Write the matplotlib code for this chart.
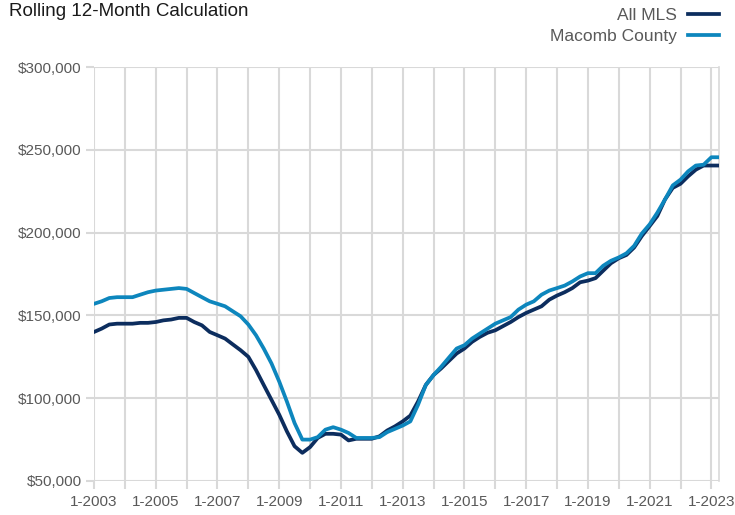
import pandas as pd
import matplotlib
matplotlib.use("Agg")
import matplotlib.pyplot as plt
import matplotlib.dates as mdates
from matplotlib.ticker import FuncFormatter

plt.rcParams['font.family'] = ['Liberation Sans', 'DejaVu Sans']

# quarterly points, 1-2003 .. 4-2023 (values in $ thousands)
months = pd.date_range('2003-01-01', '2023-04-01', freq='QS')

all_mls = [
    140, 142, 144.5, 145,
    145, 145, 145.5, 145.5,
    146, 147, 147.5, 148.5,
    148.5, 146, 144, 140,
    138, 136, 132.5, 129,
    125, 117, 108, 99,
    90, 80, 71, 67,
    70.5, 76, 78.5, 78.5,
    78, 74.5, 75.5, 75.5,
    75.5, 77, 80.5, 83,
    86, 89.5, 98, 108,
    114, 118, 122.5, 127,
    130, 134, 137, 139.5,
    141, 143.5, 146, 149,
    151.5, 153.5, 155.5, 159.5,
    162, 164, 166.5, 170,
    171, 172.5, 177, 181.5,
    184.5, 186.5, 191, 198,
    204, 210, 220, 227,
    229.5, 234, 238, 240.5,
    240.5, 240.5,
]

macomb = [
    157, 158.5, 160.5, 161,
    161, 161, 162.5, 164,
    165, 165.5, 166, 166.5,
    166, 163.5, 161, 158.5,
    157, 155.5, 152.5, 149.5,
    144.5, 138, 130, 121,
    110, 98, 85, 75,
    75, 76.5, 81, 82.5,
    81, 79, 76, 76,
    76, 76.5, 79.5, 81.5,
    83.5, 86, 96, 108,
    114, 119, 124.5, 130,
    132, 136, 139, 142,
    145, 147, 149, 153.5,
    156.5, 158.5, 162.5, 165,
    166.5, 168, 170.5, 173.5,
    175.5, 175.5, 180, 183,
    185, 187.5, 192, 199.5,
    205, 212, 220, 228.5,
    232, 237, 240.5, 241,
    245.5, 245.5,
]

series_names = ['All MLS', 'Macomb County']
series_colors = ['#0c2d5e', '#0d86bd']

tick_labels = ['1-2003', '1-2005', '1-2007', '1-2009', '1-2011', '1-2013',
               '1-2015', '1-2017', '1-2019', '1-2021', '1-2023']

GRID = '#d9d9d9'
TEXT = '#595959'

fig = plt.figure(figsize=(7.35, 5.15), dpi=100)
ax = fig.add_axes([94 / 735, 1 - 481 / 515, (719 - 94) / 735, (481 - 67) / 515])

for vals, name, col in zip([all_mls, macomb], series_names, series_colors):
    ax.plot(months, [v * 1000 for v in vals], color=col, lw=2.7, label=name,
            solid_joinstyle='round', zorder=3)

ax.set_ylim(50000, 300000)
ax.set_yticks(range(50000, 300001, 50000))
ax.yaxis.set_major_formatter(FuncFormatter(lambda v, p: '${:,.0f}'.format(v)))

ax.set_xlim(pd.Timestamp('2003-01-01'), pd.Timestamp('2023-04-01'))
major = [pd.Timestamp('{}-01-01'.format(t.split('-')[1])) for t in tick_labels]
ax.set_xticks(major)
ax.set_xticklabels(tick_labels)
ax.xaxis.set_minor_locator(mdates.YearLocator(1))

# grid
ax.grid(True, which='both', axis='x', color=GRID, lw=1.5)
ax.grid(True, which='major', axis='y', color=GRID, lw=1.5)
ax.set_axisbelow(True)

for s in ['top', 'left', 'bottom']:
    ax.spines[s].set_visible(False)
ax.spines['right'].set_color(GRID)
ax.spines['right'].set_linewidth(1.2)

ax.tick_params(axis='both', which='both', color=GRID, width=1.5, length=6,
               labelcolor=TEXT, labelsize=11)
ax.tick_params(axis='y', pad=3)
ax.tick_params(axis='x', pad=4)

fig.text(0.012, 1 - 12 / 515, 'Rolling 12-Month Calculation', fontsize=13.5,
         color='#1a1a1a', va='center', ha='left')

fig.legend(loc='upper right', bbox_to_anchor=(719 / 735, 1 - 8 / 515),
           frameon=False, markerfirst=False, fontsize=12.5, labelcolor=TEXT,
           handlelength=1.8, handletextpad=0.6, labelspacing=0.35, borderpad=0,
           borderaxespad=0)

fig.savefig('out.png', dpi=100)
